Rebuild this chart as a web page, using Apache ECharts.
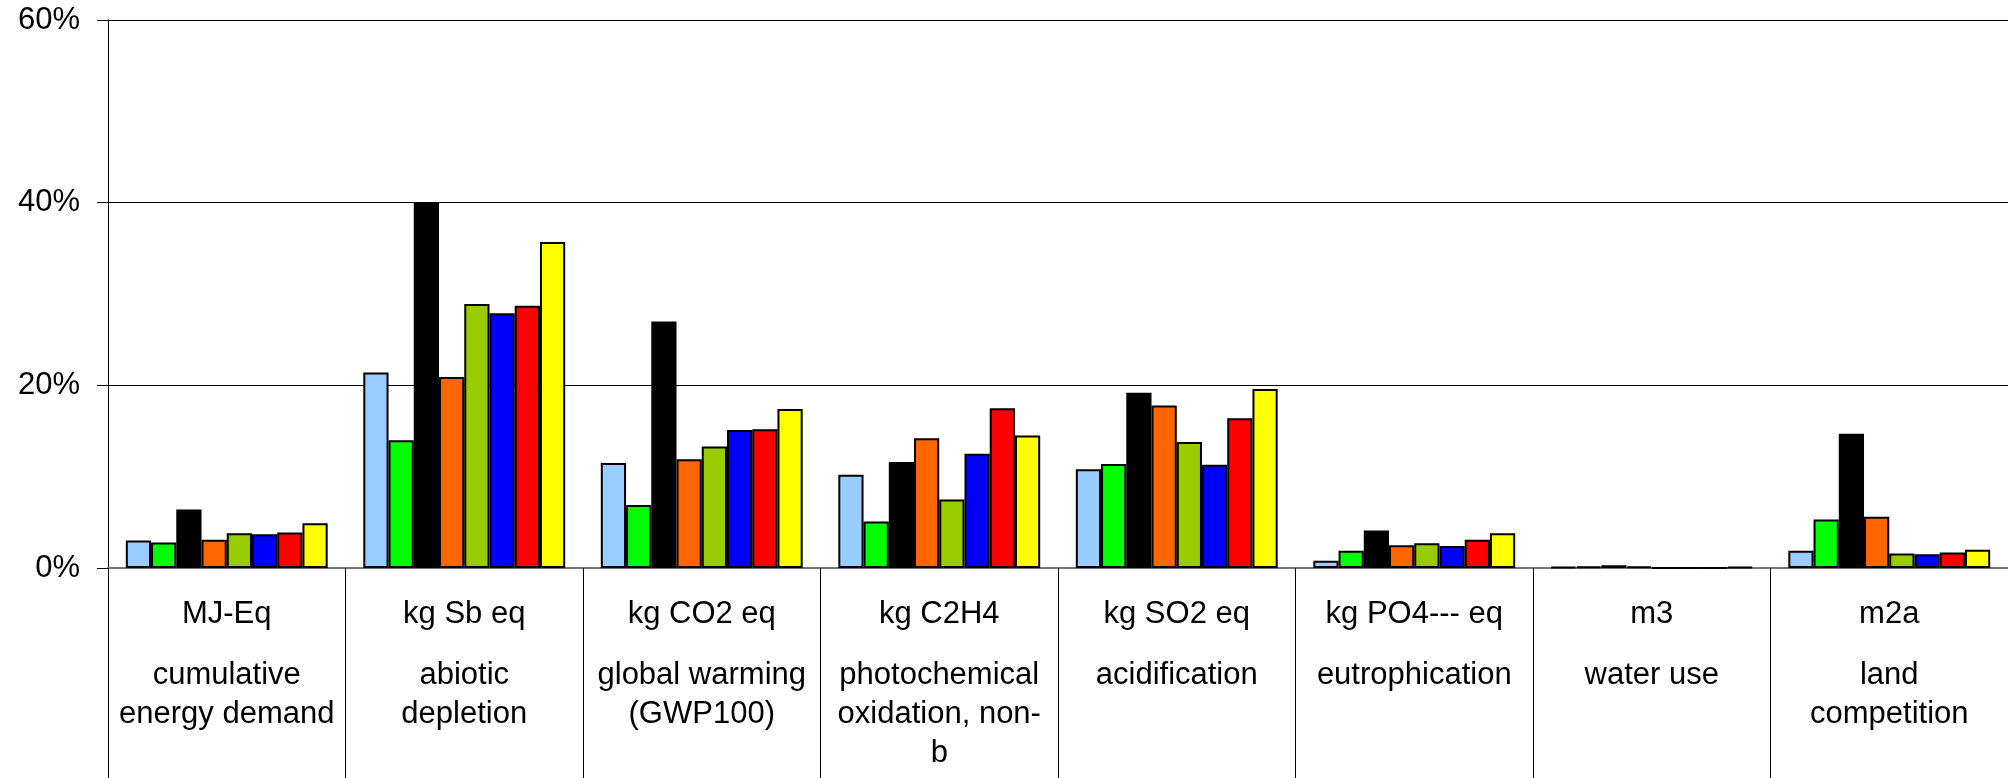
<!DOCTYPE html>
<html>
<head>
<meta charset="utf-8">
<script src="https://cdn.jsdelivr.net/npm/echarts@6/dist/echarts.min.js"></script>
<style>
html,body{margin:0;padding:0;background:#fff;}
#chart{width:2008px;height:778px;}
</style>
</head>
<body>
<div id="chart"></div>
<script>
var units = ['MJ-Eq', 'kg Sb eq', 'kg CO2 eq', 'kg C2H4', 'kg SO2 eq', 'kg PO4--- eq', 'm3', 'm2a'];
var descriptions = ['cumulative\nenergy demand', 'abiotic\ndepletion', 'global warming\n(GWP100)', 'photochemical\noxidation, non-\nb', 'acidification', 'eutrophication', 'water use', 'land\ncompetition'];
var yTicks = [0, 20, 40, 60];

var series1 = [3.0, 21.4, 11.5, 10.2, 10.8, 0.8, 0.1, 1.9];
var series2 = [2.8, 14.0, 6.9, 5.1, 11.4, 1.9, 0.15, 5.3];
var series3 = [6.4, 40.0, 27.0, 11.6, 19.2, 4.1, 0.3, 14.7];
var series4 = [3.1, 20.9, 11.9, 14.2, 17.8, 2.5, 0.15, 5.6];
var series5 = [3.8, 28.9, 13.3, 7.5, 13.8, 2.7, 0, 1.6];
var series6 = [3.7, 27.9, 15.1, 12.5, 11.3, 2.4, 0, 1.5];
var series7 = [3.9, 28.7, 15.2, 17.5, 16.4, 3.1, 0, 1.7];
var series8 = [4.9, 35.7, 17.4, 14.5, 19.6, 3.8, 0.1, 2.0];

var seriesData = [series1, series2, series3, series4, series5, series6, series7, series8];
var colors = ['#99CCFF', '#00FF00', '#000000', '#FF6600', '#99CC00', '#0000FF', '#FF0000', '#FFFF00'];

var font = "'Liberation Sans', Arial, sans-serif";

var chart = echarts.init(document.getElementById('chart'), null, {renderer: 'canvas'});
chart.setOption({
  animation: false,
  backgroundColor: '#ffffff',
  grid: {left: 108, right: 0, top: 20, bottom: 210, containLabel: false},
  xAxis: {
    type: 'category',
    data: units,
    boundaryGap: true,
    axisLine: {show: true, lineStyle: {color: '#777777', width: 2}},
    axisTick: {show: true, interval: 0, length: 212, lineStyle: {color: '#000000', width: 1}},
    axisLabel: {
      interval: 0,
      margin: 5,
      color: '#000',
      fontFamily: font,
      fontSize: 31,
      formatter: function (value, index) {
        return '{u|' + value + '}\n{d|' + descriptions[index] + '}';
      },
      rich: {
        u: {fontFamily: font, fontSize: 31, color: '#000', lineHeight: 83, align: 'center'},
        d: {fontFamily: font, fontSize: 31, color: '#000', lineHeight: 39, align: 'center'}
      }
    },
    splitLine: {show: false}
  },
  yAxis: {
    type: 'value',
    min: yTicks[0],
    max: yTicks[yTicks.length - 1],
    interval: yTicks[1] - yTicks[0],
    axisLine: {show: true, lineStyle: {color: '#000', width: 1}},
    axisTick: {show: true, length: 11, lineStyle: {color: '#000', width: 1}},
    axisLabel: {
      color: '#000',
      fontFamily: font,
      fontSize: 31,
      margin: 28,
      formatter: '{value}%'
    },
    splitLine: {show: true, lineStyle: {color: '#000', width: 1}}
  },
  series: seriesData.map(function (d, i) {
    return {
      type: 'bar',
      name: 'Series ' + (i + 1),
      data: d,
      barGap: '0%',
      barCategoryGap: '15%',
      itemStyle: {color: colors[i], borderColor: '#000', borderWidth: 2}
    };
  })
});
</script>
</body>
</html>
